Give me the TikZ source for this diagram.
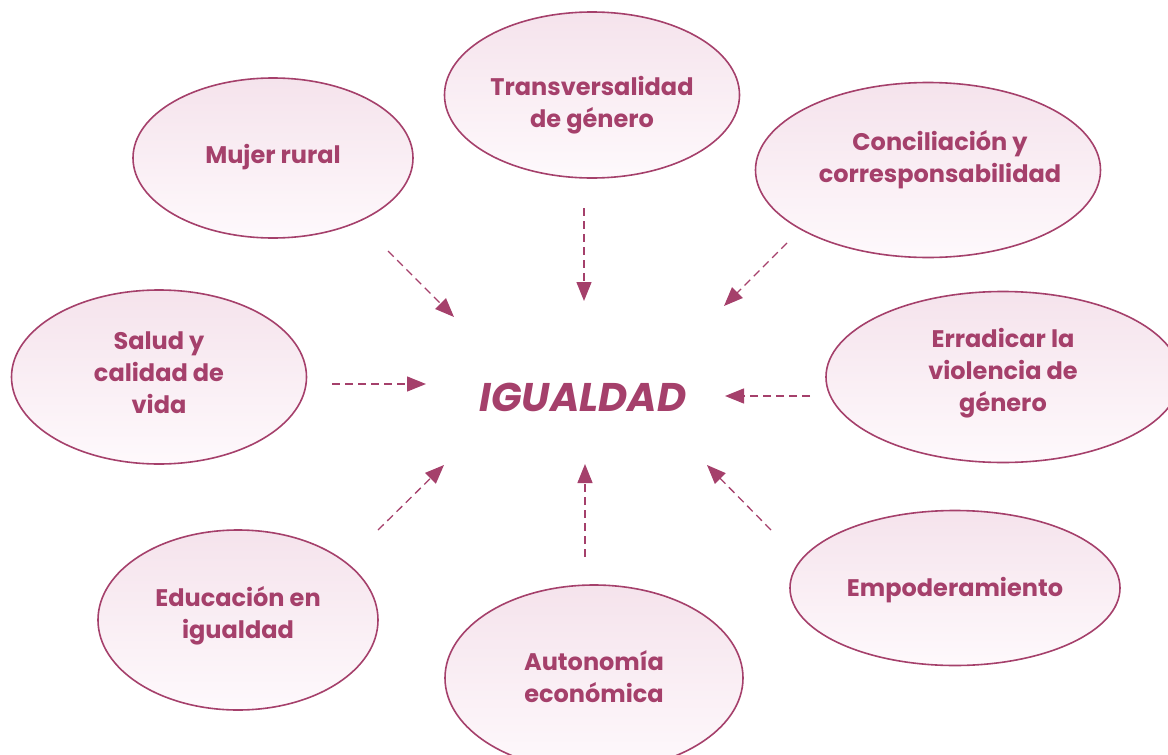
\documentclass[tikz,border=0pt]{standalone}
\usepackage{fontspec}
\setmainfont{Poppins}
\usetikzlibrary{arrows.meta}
\usetikzlibrary{shapes}

\definecolor{ciruela}{RGB}{165,64,107}
\definecolor{rosa}{RGB}{245,227,236}
\definecolor{rosaclaro}{RGB}{254,249,252}

\begin{document}
\begin{tikzpicture}[x = 1pt, y = -1pt]
\tikzstyle{TemaStyle}=[shape = ellipse,
                       draw = ciruela,
                       line width = 1.6pt,
                       top color = rosa,
                       bottom color = rosaclaro,
                       inner sep = 0pt]
\tikzstyle{TextoStyle}=[text = ciruela,
                        align = center,
                        font = \bfseries\fontsize{24}{32}\selectfont]
\tikzstyle{FlechaStyle}=[draw = ciruela,
                         line width = 1.3pt,
                         dash pattern = on 8pt off 5pt,
                         -{Triangle[length = 19pt, width = 15pt]}]
\clip (0,0) rectangle (1168,755);
% temas
\node[TemaStyle, minimum width = 295pt, minimum height = 166pt] (t0) at (592,95) {};
\node[TemaStyle, minimum width = 280pt, minimum height = 160pt] (t1) at (273,158) {};
\node[TemaStyle, minimum width = 345pt, minimum height = 175pt] (t2) at (928,170) {};
\node[TemaStyle, minimum width = 295pt, minimum height = 174pt] (t3) at (159,377) {};
\node[TemaStyle, minimum width = 354pt, minimum height = 171pt] (t4) at (1003,377) {};
\node[TemaStyle, minimum width = 280pt, minimum height = 180pt] (t5) at (238,620) {};
\node[TemaStyle, minimum width = 298pt, minimum height = 186pt] (t6) at (594,678) {};
\node[TemaStyle, minimum width = 330pt, minimum height = 155pt] (t7) at (955,588) {};
\node[TextoStyle] (l0) at (592,105) {Transversalidad\\de género};
\node[TextoStyle] (l1) at (273,157) {Mujer rural};
\node[TextoStyle] (l2) at (940,160) {Conciliación y\\corresponsabilidad};
\node[TextoStyle] (l3) at (159,373) {Salud y\\calidad de\\vida};
\node[TextoStyle] (l4) at (1003,373) {Erradicar la\\violencia de\\género};
\node[TextoStyle] (l5) at (238,616) {Educación en\\igualdad};
\node[TextoStyle] (l6) at (594,677) {Autonomía\\económica};
\node[TextoStyle] (l7) at (955,590) {Empoderamiento};
\node[text = ciruela, font = \bfseries\itshape\fontsize{40}{48}\selectfont] (ig) at (583,397) {IGUALDAD};
% flechas
\coordinate (a0) at (584,208);  \coordinate (b0) at (584,301);
\coordinate (a1) at (388,251);  \coordinate (b1) at (454,317);
\coordinate (a2) at (787,243);  \coordinate (b2) at (724,306);
\coordinate (a3) at (332,384);  \coordinate (b3) at (426,384);
\coordinate (a4) at (810,396);  \coordinate (b4) at (725,396);
\coordinate (a5) at (378,530);  \coordinate (b5) at (444,465);
\coordinate (a6) at (585,557);  \coordinate (b6) at (585,464);
\coordinate (a7) at (771,530);  \coordinate (b7) at (707,465);
\draw[FlechaStyle] (a0) -- (b0);
\draw[FlechaStyle] (a1) -- (b1);
\draw[FlechaStyle] (a2) -- (b2);
\draw[FlechaStyle] (a3) -- (b3);
\draw[FlechaStyle] (a4) -- (b4);
\draw[FlechaStyle] (a5) -- (b5);
\draw[FlechaStyle] (a6) -- (b6);
\draw[FlechaStyle] (a7) -- (b7);
\end{tikzpicture}
\end{document}
